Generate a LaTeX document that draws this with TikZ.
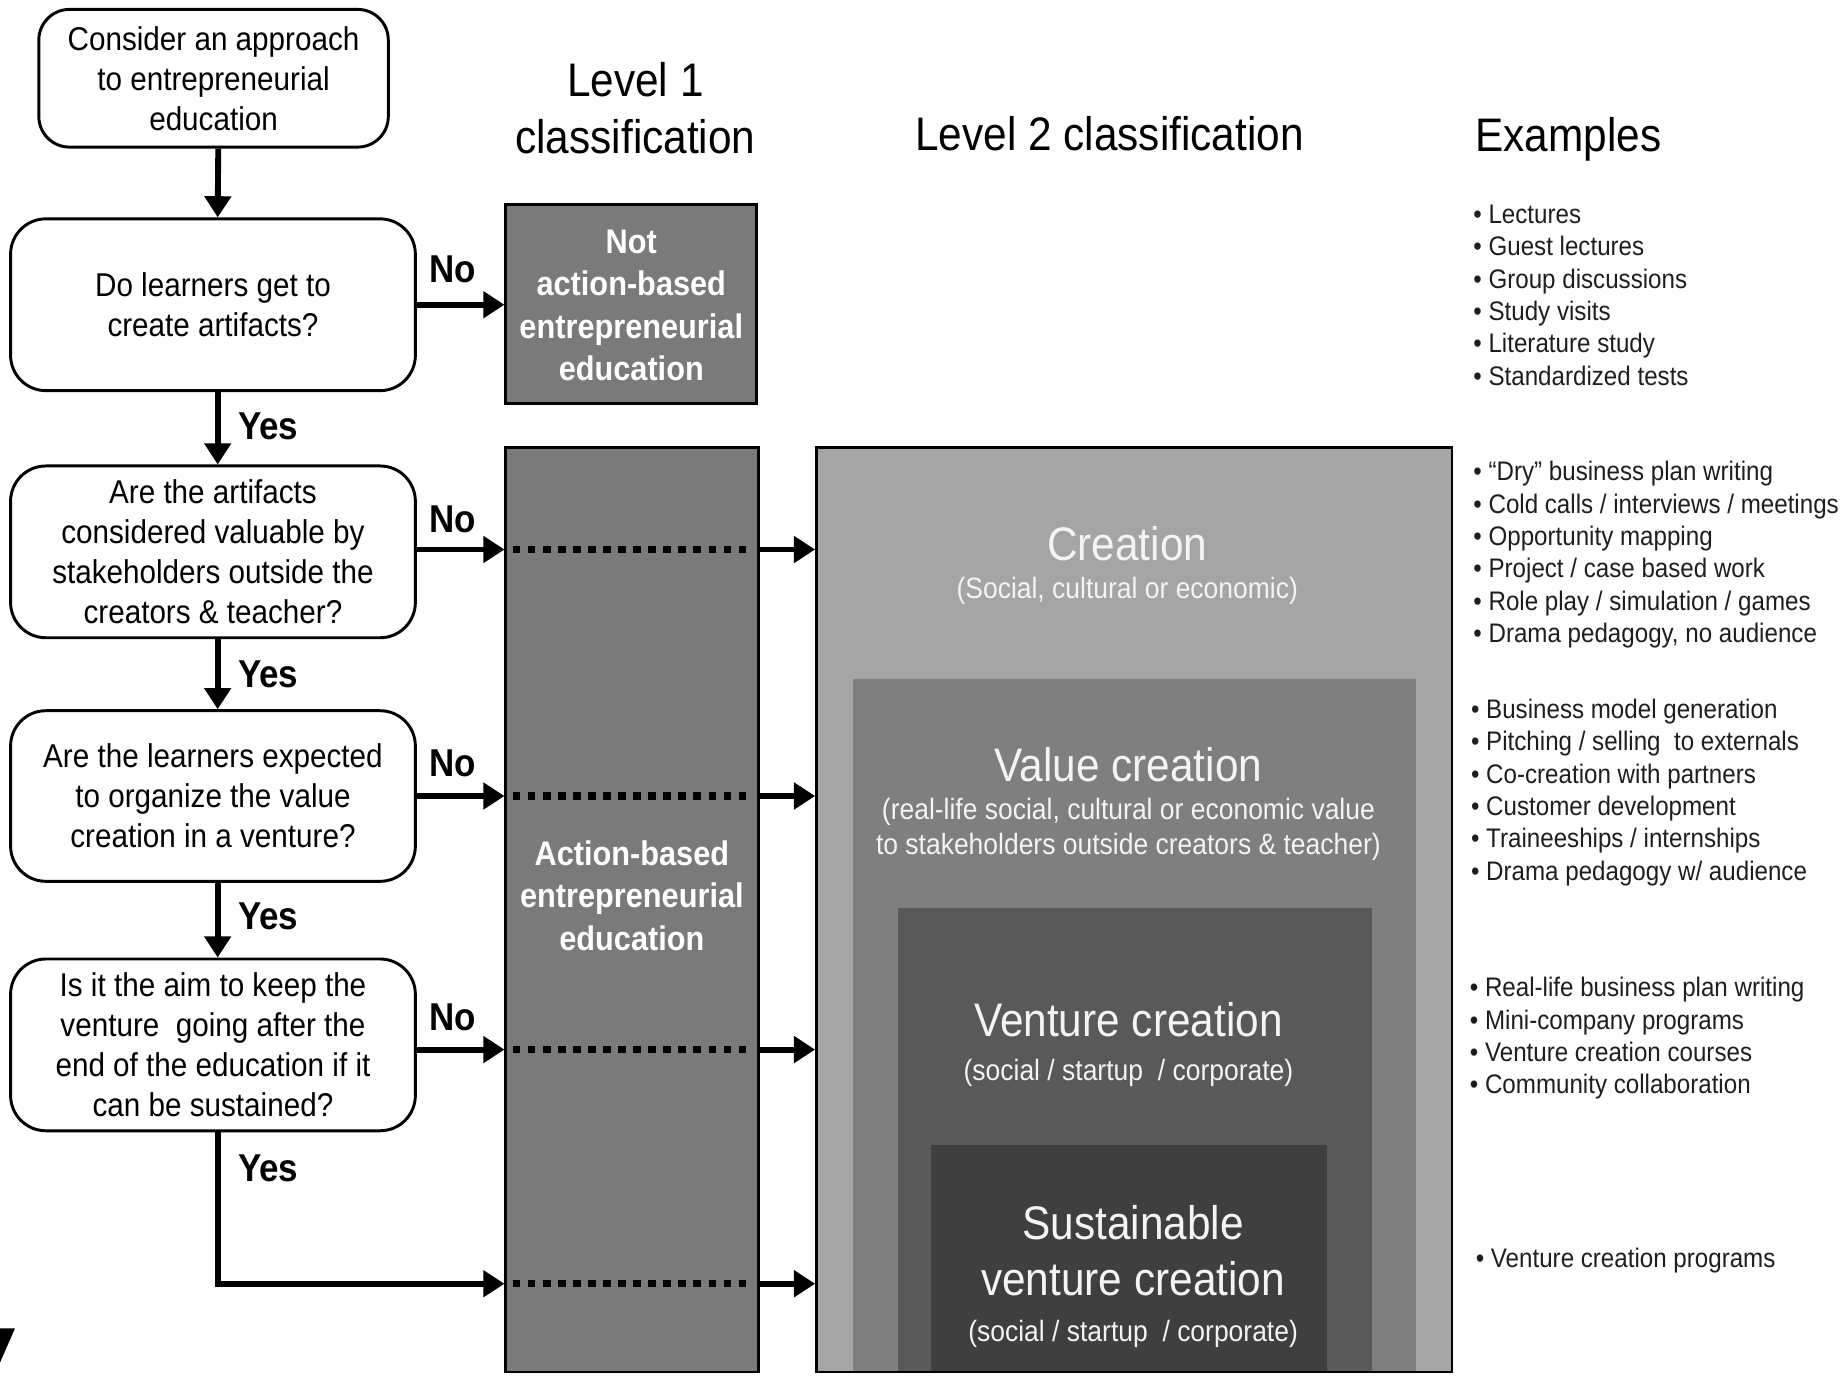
\documentclass[tikz,border=0pt]{standalone}
\usepackage{fontspec}
\setmainfont{Liberation Sans}[FakeStretch=0.9]
\usetikzlibrary{arrows.meta}
\newcommand{\fsz}[2]{\fontsize{#1}{#2}\selectfont}
\definecolor{boxgray}{HTML}{7A7A7A}
\definecolor{lvA}{HTML}{A5A5A5}
\definecolor{lvB}{HTML}{7F7F7F}
\definecolor{lvC}{HTML}{595959}
\definecolor{lvD}{HTML}{3F3F3F}
\definecolor{softwhite}{HTML}{F4F4F4}
\definecolor{listtext}{HTML}{1E1E1E}

\begin{document}
\begin{tikzpicture}[x=1pt,y=-1pt,
  qbox/.style={draw=black, line width=2.5pt, rounded corners=30pt, fill=white,
    align=center, inner sep=0pt, font=\fsz{28}{34}},
  classbox/.style={draw=black, line width=2.5pt, fill=boxgray, inner sep=0pt},
  boldwhite/.style={inner sep=0pt, align=center, text=white, font=\fsz{29}{36}\bfseries},
  heading/.style={inner sep=0pt, align=center, font=\fsz{40}{48}},
  bigwhite/.style={inner sep=0pt, align=center, text=softwhite, font=\fsz{40}{48}},
  subwhite/.style={inner sep=0pt, align=center, text=softwhite, font=\fsz{25}{30}},
  answer/.style={inner sep=0pt, font=\fsz{33}{36}\bfseries},
  examples/.style={inner sep=0pt, anchor=west, align=left, text=listtext, font=\fsz{22.8}{27.5}},
  arr/.style={line width=5pt, -{Triangle[length=18pt,width=22pt]}},
  dots/.style={line width=6pt, dash pattern=on 6.5pt off 6.3pt},
]
\useasboundingbox (0,0) rectangle (1568,1169);

% ---- decision column ----
\node[qbox, rounded corners=26pt, minimum width=297pt, minimum height=117pt] (q0) at (181.5,66.5)
  {Consider an approach\\to entrepreneurial\\education};
\node[qbox, minimum width=344pt, minimum height=146pt] (q1) at (181,259)
  {Do learners get to\\create artifacts?};
\node[qbox, minimum width=344pt, minimum height=146pt] (q2) at (181,469)
  {Are the artifacts\\considered valuable by\\stakeholders outside the\\creators \& teacher?};
\node[qbox, minimum width=344pt, minimum height=145pt] (q3) at (181,676.5)
  {Are the learners expected\\to organize the value\\creation in a venture?};
\node[qbox, minimum width=344pt, minimum height=146pt] (q4) at (181,888)
  {Is it the aim to keep the\\venture\ \ going after the\\end of the education if it\\can be sustained?};

% ---- level 1 column ----
\node[classbox, minimum width=213pt, minimum height=169pt] (notab) at (536.5,258.5) {};
\node[boldwhite] (nottxt) at (536.5,259.5) {Not\\action-based\\entrepreneurial\\education};
\node[classbox, minimum width=215pt, minimum height=786pt] (act) at (537.5,773) {};
\node[boldwhite] (acttxt) at (537,761) {Action-based\\entrepreneurial\\education};

% ---- level 2 nested boxes ----
\fill[lvA] (694,380) rectangle (1234,1166);
\fill[lvB] (725,577) rectangle (1203,1166);
\fill[lvC] (763,772) rectangle (1166,1166);
\fill[lvD] (791,973) rectangle (1128,1166);
\node[draw=black, line width=2.5pt, minimum width=540pt, minimum height=786pt, inner sep=0pt] (lvtwo) at (964,773) {};

\node[bigwhite] (crea) at (958,462) {Creation};
\node[subwhite] (creasub) at (958,502) {(Social, cultural or economic)};
\node[bigwhite] (valc) at (959,650) {Value creation};
\node[subwhite] (valsub) at (959,705) {(real-life social, cultural or economic value\\to stakeholders outside creators \& teacher)};
\node[bigwhite] (venc) at (959,867) {Venture creation};
\node[subwhite] (vensub) at (959,912) {(social / startup\ \ / corporate)};
\node[bigwhite] (susc) at (963,1063) {Sustainable\\venture creation};
\node[subwhite] (sussub) at (963,1134) {(social / startup\ \ / corporate)};

% ---- headings ----
\node[heading] (h1) at (540,92) {Level 1\\classification};
\node[heading] (h2) at (943,114) {Level 2 classification};
\node[heading] (h3) at (1333,118) {Examples};

% ---- examples ----
\node[examples] (ex1) at (1252,251) {• Lectures\\• Guest lectures\\• Group discussions\\• Study visits\\• Literature study\\• Standardized tests};
\node[examples] (ex2) at (1252,471.5) {• “Dry” business plan writing\\• Cold calls / interviews / meetings\\• Opportunity mapping\\• Project / case based work\\• Role play / simulation / games\\• Drama pedagogy, no audience};
\node[examples] (ex3) at (1250,673.5) {• Business model generation\\• Pitching / selling\ \ to externals\\• Co-creation with partners\\• Customer development\\• Traineeships / internships\\• Drama pedagogy w/ audience};
\node[examples] (ex4) at (1249,882.5) {• Real-life business plan writing\\• Mini-company programs\\• Venture creation courses\\• Community collaboration};
\node[examples] (ex5) at (1254,1071) {• Venture creation programs};

% ---- flow arrows ----
\draw[arr] ([xshift=4pt]q0.south) -- ([xshift=4pt]q1.north);
\draw[arr] ([xshift=4pt]q1.south) -- ([xshift=4pt]q2.north);
\draw[arr] ([xshift=4pt]q2.south) -- ([xshift=4pt]q3.north);
\draw[arr] ([xshift=4pt]q3.south) -- ([xshift=4pt]q4.north);

\draw[arr] (q1.east) -- (q1.east -| notab.west);
\draw[arr] ([yshift=2pt]q2.east) -- ([yshift=2pt]q2.east -| act.west);
\draw[arr] (q3.east) -- (q3.east -| act.west);
\draw[arr] ([yshift=-4pt]q4.east) -- ([yshift=-4pt]q4.east -| act.west);
\coordinate (low) at (0,1091);
\draw[arr] ([xshift=4pt]q4.south) |- (act.west |- low);

% dotted pass-through and arrows into level 2
\foreach \yy/\nm in {467/a,676.5/b,892/c,1091/d}{
  \coordinate (pin\nm) at (act.west |- 0,\yy);
  \coordinate (pout\nm) at (act.east |- 0,\yy);
  \draw[dots] ([xshift=7pt]pin\nm) -- ([xshift=-7pt]pout\nm);
  \draw[arr] (pout\nm) -- (pout\nm -| lvtwo.west);
}

% ---- yes / no labels ----
\node[answer] (no1) at (385,229) {No};
\node[answer] (no2) at (385,441) {No};
\node[answer] (no3) at (385,649) {No};
\node[answer] (no4) at (385,865) {No};
\node[answer] (yes1) at (228,362) {Yes};
\node[answer] (yes2) at (228,573) {Yes};
\node[answer] (yes3) at (228,779) {Yes};
\node[answer] (yes4) at (228,993) {Yes};

% corner fragment at the lower left edge
\fill (0,1129) -- (12.7,1129) -- (0,1158) -- cycle;
\end{tikzpicture}
\end{document}
